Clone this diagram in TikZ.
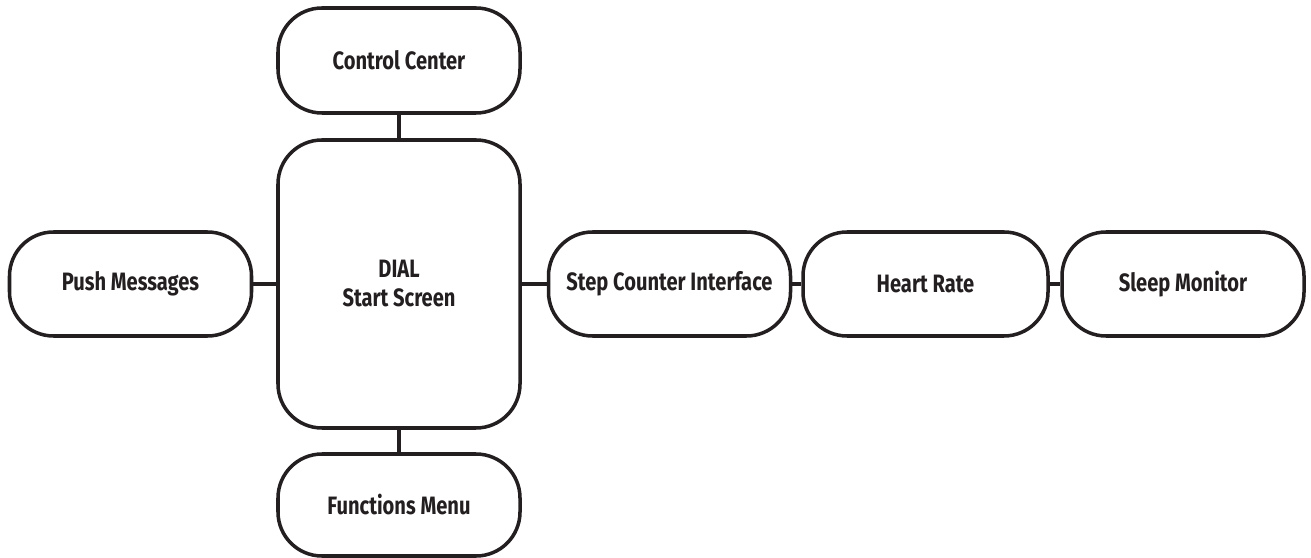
\documentclass[tikz,border=0pt]{standalone}
\usepackage{fontspec}
\setmainfont{Fira Sans}[FakeStretch=0.8]
\usepackage{xcolor}
\usepackage{tikz}
\usetikzlibrary{positioning}

\definecolor{ink}{HTML}{231F20}

\begin{document}
\begin{tikzpicture}[
    screen/.style={rectangle, draw=ink, line width=2pt, rounded corners=0.88cm, minimum width=4.84cm, minimum height=2.08cm, align=center, text=ink, font=\fontsize{14.3}{16.5}\selectfont\bfseries},
    link/.style={draw=ink, line width=2pt}
]
    \useasboundingbox (0,0) rectangle (26.22,11.14);

    \node[screen, minimum height=2.10cm] (ctrl) at (7.98,9.93) {Control Center};
    \node[screen, minimum height=5.76cm] (dial) at (7.98,5.46) {DIAL\\Start Screen};
    \node[screen, minimum height=2.04cm] (menu) at (7.98,1.04) {Functions Menu};
    \node[screen] (push) at (2.61,5.46) {Push Messages};
    \node[screen] (steps) at (13.39,5.46) {Step Counter Interface};
    \node[screen, minimum width=4.9cm] (heart) at (18.51,5.46) {Heart Rate};
    \node[screen] (sleep) at (23.66,5.46) {Sleep Monitor};

    \draw[link] (ctrl) -- (dial);
    \draw[link] (dial) -- (menu);
    \draw[link] (push) -- (dial);
    \draw[link] (dial) -- (steps);
    \draw[link] (steps) -- (heart);
    \draw[link] (heart) -- (sleep);
\end{tikzpicture}
\end{document}
